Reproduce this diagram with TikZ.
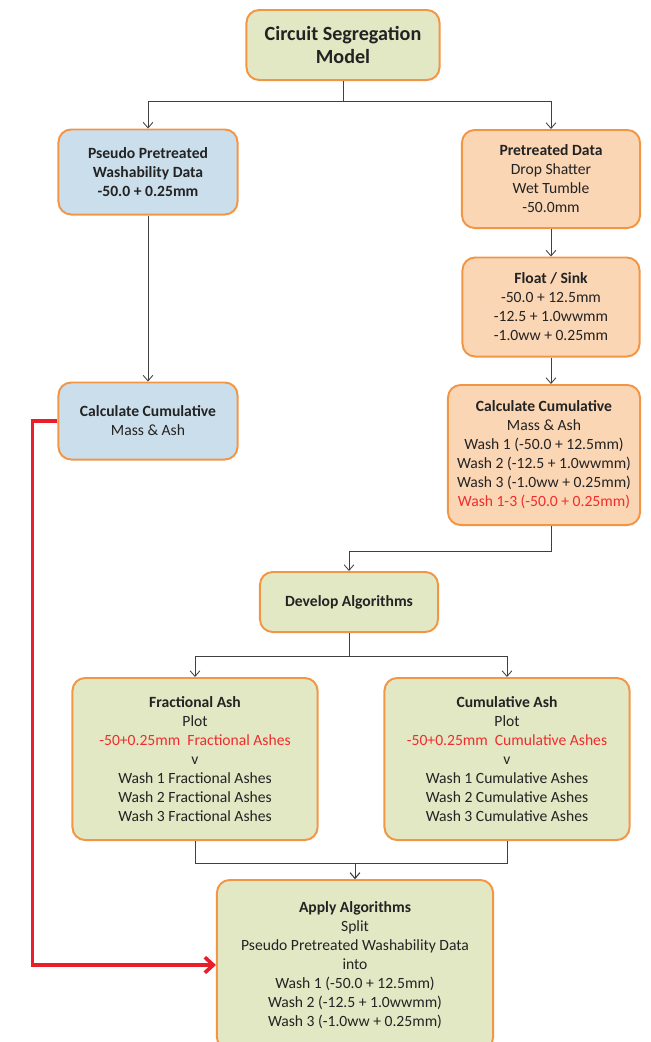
\documentclass[tikz,border=0pt]{standalone}
\usepackage{fontspec}
\setmainfont{Carlito}
\usetikzlibrary{arrows.meta}
\definecolor{boxedge}{RGB}{242,150,70}
\definecolor{bluefill}{RGB}{203,222,236}
\definecolor{orangefill}{RGB}{250,214,180}
\definecolor{greenfill}{RGB}{226,231,196}
\definecolor{redtext}{RGB}{240,45,45}
\definecolor{redline}{RGB}{232,30,40}
\definecolor{textgray}{RGB}{35,35,35}
\begin{document}
\begin{tikzpicture}[x=0.025cm,y=-0.025cm]
    \tikzstyle{box}=[draw=boxedge, line width=1.4pt, rounded corners=9pt, align=center, text=textgray, inner sep=2pt, font=\fontsize{11.1}{13.5}\selectfont]
    \tikzstyle{bluebox}=[box, fill=bluefill]
    \tikzstyle{orangebox}=[box, fill=orangefill]
    \tikzstyle{greenbox}=[box, fill=greenfill]
    \tikzstyle{link}=[draw=black!75, line width=0.6pt, -{Straight Barb[length=4pt,width=7pt]}]
    \tikzstyle{redlink}=[draw=redline, line width=2.6pt, -{Straight Barb[length=6pt,width=11pt,line width=2.6pt]}]

    \useasboundingbox (0,0) rectangle (651,1042);

    % Top of the tree
    \node[greenbox, minimum width=4.825cm, minimum height=1.75cm, font=\fontsize{14.3}{17}\selectfont\bfseries] (model) at (343,45) {Circuit Segregation\\Model};

    % Left column
    \node[bluebox, minimum width=4.475cm, minimum height=2.125cm] (pseudo) at (148,172)
        {\textbf{Pseudo Pretreated}\\\textbf{Washability Data}\\\textbf{-50.0 + 0.25mm}};
    \node[bluebox, minimum width=4.475cm, minimum height=1.925cm] (calcL) at (148,421)
        {\textbf{Calculate Cumulative}\\Mass \& Ash};

    % Right column
    \node[orangebox, minimum width=4.45cm, minimum height=2.45cm] (pretreat) at (551,179)
        {\textbf{Pretreated Data}\\Drop Shatter\\Wet Tumble\\-50.0mm};
    \node[orangebox, minimum width=4.425cm, minimum height=2.475cm] (floatsink) at (551,307)
        {\textbf{Float / Sink}\\-50.0 + 12.5mm\\-12.5 + 1.0wwmm\\-1.0ww + 0.25mm};
    \node[orangebox, minimum width=4.8cm, minimum height=3.5cm] (calcR) at (544,455)
        {\textbf{Calculate Cumulative}\\Mass \& Ash\\Wash 1 (-50.0 + 12.5mm)\\Wash 2 (-12.5 + 1.0wwmm)\\Wash 3 (-1.0ww + 0.25mm)\\\textcolor{redtext}{Wash 1-3 (-50.0 + 0.25mm)}};

    % Algorithms
    \node[greenbox, minimum width=4.45cm, minimum height=1.5cm] (develop) at (349,602)
        {\textbf{Develop Algorithms}};
    \node[greenbox, minimum width=6.125cm, minimum height=4.05cm] (fractional) at (195,759)
        {\textbf{Fractional Ash}\\Plot\\\textcolor{redtext}{-50+0.25mm\ \ Fractional Ashes}\\v\\Wash 1 Fractional Ashes\\Wash 2 Fractional Ashes\\Wash 3 Fractional Ashes};
    \node[greenbox, minimum width=6.125cm, minimum height=4.05cm] (cumulative) at (507,759)
        {\textbf{Cumulative Ash}\\Plot\\\textcolor{redtext}{-50+0.25mm\ \ Cumulative Ashes}\\v\\Wash 1 Cumulative Ashes\\Wash 2 Cumulative Ashes\\Wash 3 Cumulative Ashes};
    \node[greenbox, minimum width=6.9cm, minimum height=4.25cm] (apply) at (355,965)
        {\textbf{Apply Algorithms}\\Split\\Pseudo Pretreated Washability Data\\into\\Wash 1 (-50.0 + 12.5mm)\\Wash 2 (-12.5 + 1.0wwmm)\\Wash 3 (-1.0ww + 0.25mm)};

    % Connectors
    \draw[link] (model.south) -- ++(0,20) -| (pseudo.north);
    \draw[link] (model.south) -- ++(0,20) -| (pretreat.north);
    \draw[link] (pseudo) -- (calcL);
    \draw[link] (pretreat) -- (floatsink);
    \draw[link] (floatsink.south) -- (floatsink.south |- calcR.north);
    \draw[link] (floatsink.south |- calcR.south) -- ++(0,25) -| (develop.north);
    \draw[link] (develop.south) -- ++(0,23) -| (fractional.north);
    \draw[link] (develop.south) -- ++(0,23) -| (cumulative.north);
    \draw[link] (fractional.south) -- ++(0,22) -| (apply.north);
    \draw[link] (cumulative.south) -- ++(0,22) -| (apply.north);

    % Red feed of the left data
    \draw[redlink] (calcL.west) -- ++(-25,0) |- (apply.west);
\end{tikzpicture}
\end{document}
